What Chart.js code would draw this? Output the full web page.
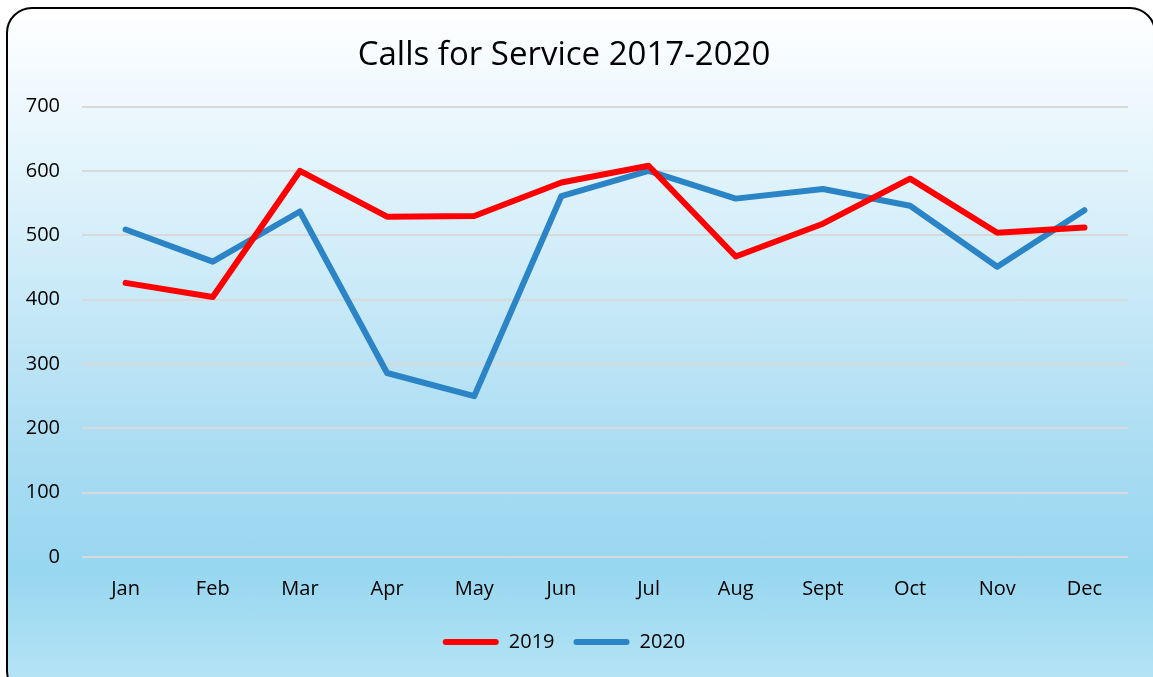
<!DOCTYPE html>
<html>
<head>
<meta charset="utf-8">
<script src="https://cdn.jsdelivr.net/npm/chart.js@4"></script>
<style>
  html, body { margin: 0; padding: 0; background: #fff; }
  .frame {
    position: absolute; left: 6px; top: 7px; width: 1150px; height: 690px;
    box-sizing: border-box;
    border: 2px solid #000; border-radius: 26px;
    background: linear-gradient(to bottom, #ffffff 0%, #d9f0fa 30%, #a9dcf2 65%, #97d7f0 82%, #b9e5f6 100%);
  }
  .wrap { position: absolute; left: 0; top: 0; width: 1153px; height: 677px; }
</style>
</head>
<body>
<div class="frame"></div>
<div class="wrap"><canvas id="callsChart"></canvas></div>
<script>
const months = ['Jan', 'Feb', 'Mar', 'Apr', 'May', 'Jun', 'Jul', 'Aug', 'Sept', 'Oct', 'Nov', 'Dec'];
const calls2019 = [426, 404, 600, 529, 530, 582, 608, 467, 518, 588, 504, 512];
const calls2020 = [509, 459, 537, 286, 250, 561, 600, 557, 572, 546, 451, 539];
const yTicks = [0, 100, 200, 300, 400, 500, 600, 700];

const font = "'Open Sans', 'Noto Sans', sans-serif";

const ctx = document.getElementById('callsChart');
const chart = new Chart(ctx, {
    type: 'line',
    data: {
        labels: months,
        datasets: [{
                label: '2019',
                data: calls2019,
                borderColor: '#FF0000',
                backgroundColor: '#FF0000',
                borderWidth: 6,
                pointRadius: 0,
                borderCapStyle: 'round',
                borderJoinStyle: 'round',
                tension: 0
            }, {
                label: '2020',
                data: calls2020,
                borderColor: '#2A84C6',
                backgroundColor: '#2A84C6',
                borderWidth: 6,
                pointRadius: 0,
                borderCapStyle: 'round',
                borderJoinStyle: 'round',
                tension: 0
            }]
    },
    options: {
        responsive: true,
        maintainAspectRatio: false,
        animation: false,
        layout: {
            padding: { left: 0, right: 25, top: 0, bottom: 15 }
        },
        scales: {
            x: {
                offset: true,
                grid: { display: false },
                border: { display: false },
                ticks: {
                    color: '#000',
                    padding: 12,
                    font: { family: font, size: 20 }
                }
            },
            y: {
                min: 0,
                max: 700,
                afterFit: (scale) => { scale.width = 82; },
                afterBuildTicks: (scale) => {
                    scale.ticks = yTicks.map(v => ({ value: v }));
                },
                grid: { color: '#D9D9D9', lineWidth: 2, drawTicks: false },
                border: { display: false },
                ticks: {
                    color: '#000',
                    padding: 22,
                    font: { family: font, size: 20 }
                }
            }
        },
        plugins: {
            title: {
                display: true,
                text: 'Calls for Service 2017-2020',
                color: '#000',
                font: { family: font, size: 33, weight: 'normal' },
                padding: { top: 36, bottom: 31 }
            },
            legend: {
                position: 'bottom',
                labels: {
                    color: '#000',
                    font: { family: font, size: 20 },
                    boxWidth: 56,
                    boxHeight: 6,
                    padding: 19,
                    useBorderRadius: true,
                    borderRadius: 3,
                    generateLabels: (c) => c.data.datasets.map((ds, i) => ({
                        text: ds.label,
                        fillStyle: ds.borderColor,
                        strokeStyle: ds.borderColor,
                        lineWidth: 0,
                        fontColor: '#000',
                        borderRadius: 3,
                        datasetIndex: i
                    }))
                }
            },
            tooltip: { enabled: false }
        }
    }
});
</script>
</body>
</html>
